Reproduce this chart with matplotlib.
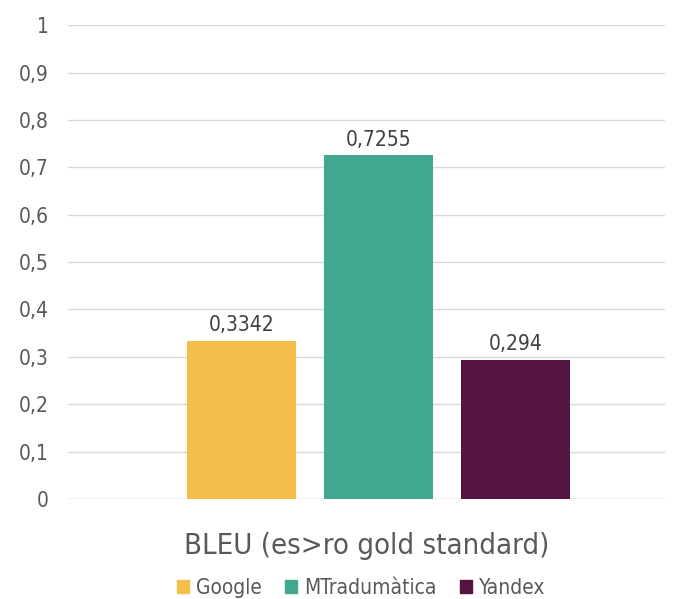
import matplotlib.pyplot as plt
from matplotlib.patches import Patch

categories = ["Google", "MTradumàtica", "Yandex"]
values = [0.3342, 0.7255, 0.294]
value_labels = ["0,3342", "0,7255", "0,294"]
colors = ["#F4BE4B", "#41A78E", "#541541"]
yticks = [0, 0.1, 0.2, 0.3, 0.4, 0.5, 0.6, 0.7, 0.8, 0.9, 1.0]
ytick_labels = ["0", "0,1", "0,2", "0,3", "0,4", "0,5", "0,6", "0,7", "0,8", "0,9", "1"]
group_label = "BLEU (es>ro gold standard)"

plt.rcParams["font.family"] = ["Liberation Sans Narrow", "DejaVu Sans"]
plt.rcParams["font.stretch"] = "condensed"

fig = plt.figure(figsize=(6.8, 5.99), dpi=100)
ax = fig.add_axes([0.1, 0.167, 0.878, 0.791])

pos = [-1, 0, 1]
bars = ax.bar(pos, values, width=0.79, color=colors, zorder=3)
for b, lab in zip(bars, value_labels):
    ax.text(b.get_x() + b.get_width() / 2, b.get_height() + 0.012, lab,
            ha="center", va="bottom", fontsize=15, color="#404040")

ax.set_xlim(-2.266, 2.091)
ax.set_ylim(0, 1)
ax.set_yticks(yticks)
ax.set_yticklabels(ytick_labels, fontsize=15, color="#595959")
ax.set_xticks([])
ax.grid(axis="y", color="#D9D9D9", linewidth=1, zorder=0)
for s in ax.spines.values():
    s.set_visible(False)
ax.tick_params(axis="y", length=0, pad=14)
ax.axhline(0, color="#D9D9D9", linewidth=1, zorder=1)

ax.set_xlabel(group_label, fontsize=21, color="#595959", labelpad=24)

handles = [Patch(color=c, label=n) for c, n in zip(colors, categories)]
fig.legend(handles=handles, loc="center", bbox_to_anchor=(0.531, 0.018),
           ncol=3, frameon=False, fontsize=15, handlelength=0.58, handleheight=0.58,
           handletextpad=0.3, columnspacing=1.15, labelcolor="#595959",
           borderpad=0, borderaxespad=0)

fig.savefig("out.png", dpi=100)
